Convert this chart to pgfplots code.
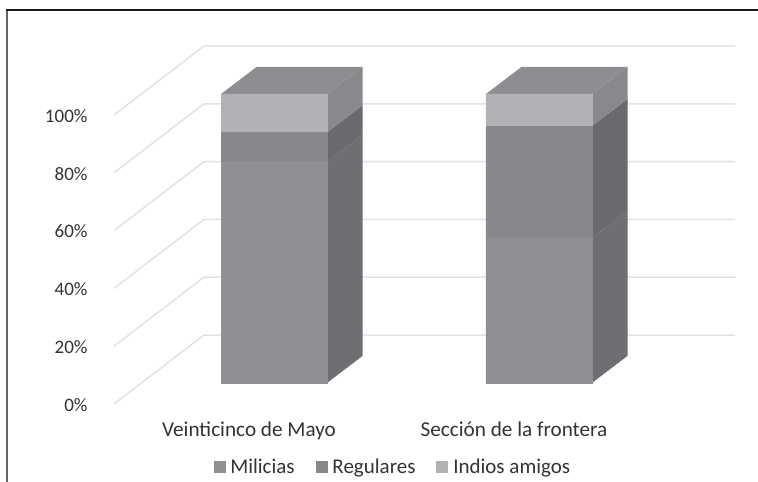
\documentclass[border=0pt]{standalone}
\usepackage{pgfplots}
\usepackage{fontspec}
\setmainfont{Carlito}
\pgfplotsset{compat=1.18}

\definecolor{wallgrid}{HTML}{E2E2E3}
\definecolor{mil}{HTML}{8E8F92}
\definecolor{reg}{HTML}{87888B}
\definecolor{ind}{HTML}{B1B2B5}
\definecolor{milside}{HTML}{6E6F72}
\definecolor{regside}{HTML}{696A6D}
\definecolor{indside}{HTML}{88898C}
\definecolor{topface}{HTML}{8D8E91}
\definecolor{txt}{HTML}{333333}

\pgfplotsset{
  chartbox/.style={
    at={(114pt,78pt)}, anchor=south west,
    scale only axis, width=621pt, height=358pt,
    xmin=0.396, xmax=2.74, ymin=-7.27, ymax=116.6,
    axis line style={draw=none},
    tick style={draw=none},
    clip=false,
  },
  wall/.style={wallgrid,line width=1.5pt,line join=round},
}

\begin{document}
\begin{tikzpicture}[x=1pt,y=1pt]
\path[use as bounding box] (0,0) rectangle (758,482);
\draw[color=black!60,line width=2pt] (7,-3) -- (7,472);
\draw[color=black!90,line width=1.5pt] (6,472) -- (761,472);

% grid walls and the side and top faces of the bars
\begin{axis}[chartbox,
  xtick=\empty,
  ytick={0,20,40,60,80,100},
  yticklabels={0\%,20\%,40\%,60\%,80\%,100\%},
  yticklabel style={font=\fontsize{19}{19}\selectfont,text=txt,anchor=east,xshift=-23pt,yshift=-22pt},
]
\addplot[wall] coordinates {(0.396,-7.27) (0.7358,16.6) (2.74,16.6)};
\addplot[wall] coordinates {(0.396,12.73) (0.7358,36.6) (2.74,36.6)};
\addplot[wall] coordinates {(0.396,32.73) (0.7358,56.6) (2.74,56.6)};
\addplot[wall] coordinates {(0.396,52.73) (0.7358,76.6) (2.74,76.6)};
\addplot[wall] coordinates {(0.396,72.73) (0.7358,96.6) (2.74,96.6)};
\addplot[wall] coordinates {(0.396,92.73) (0.7358,116.6) (2.74,116.6)};

\addplot[fill=milside,draw=none] coordinates {(1.2,0) (1.3347,9.4) (1.3347,86.0) (1.2,76.6)} -- cycle;
\addplot[fill=regside,draw=none] coordinates {(1.2,76.6) (1.3347,86.0) (1.3347,96.1) (1.2,86.7)} -- cycle;
\addplot[fill=indside,draw=none] coordinates {(1.2,86.7) (1.3347,96.1) (1.3347,109.4) (1.2,100)} -- cycle;
\addplot[fill=topface,draw=none] coordinates {(0.8,100) (0.9347,109.4) (1.3347,109.4) (1.2,100)} -- cycle;

\addplot[fill=milside,draw=none] coordinates {(2.2,0) (2.3347,9.4) (2.3347,59.6) (2.2,50.2)} -- cycle;
\addplot[fill=regside,draw=none] coordinates {(2.2,50.2) (2.3347,59.6) (2.3347,98.3) (2.2,88.9)} -- cycle;
\addplot[fill=indside,draw=none] coordinates {(2.2,88.9) (2.3347,98.3) (2.3347,109.4) (2.2,100)} -- cycle;
\addplot[fill=topface,draw=none] coordinates {(1.8,100) (1.9347,109.4) (2.3347,109.4) (2.2,100)} -- cycle;
\end{axis}

% front faces, categories and legend
\begin{axis}[chartbox,
  ybar stacked,
  bar width=106pt,
  ytick=\empty,
  xtick={1,2},
  xticklabels={Veinticinco de Mayo,Sección de la frontera},
  xticklabel style={font=\fontsize{21.2}{21.2}\selectfont,text=txt,xshift=-25pt,yshift=-14pt},
  legend style={at={(0.449,-0.176)},anchor=center,draw=none,fill=none,
    font=\fontsize{21}{21}\selectfont,text=txt,legend columns=3,
    /tikz/every odd column/.style={column sep=3.5pt},
    /tikz/every even column/.style={column sep=19pt}},
  legend image code/.code={\path[#1] (0pt,-5pt) rectangle (11pt,6pt);},
]
\addplot[fill=mil,draw=mil,line width=0.3pt] coordinates {(1,76.6) (2,50.2)};
\addlegendentry{Milicias}
\addplot[fill=reg,draw=reg,line width=0.3pt] coordinates {(1,10.1) (2,38.7)};
\addlegendentry{Regulares}
\addplot[fill=ind,draw=ind,line width=0.3pt] coordinates {(1,13.3) (2,11.1)};
\addlegendentry{Indios amigos}
\end{axis}
\end{tikzpicture}
\end{document}
